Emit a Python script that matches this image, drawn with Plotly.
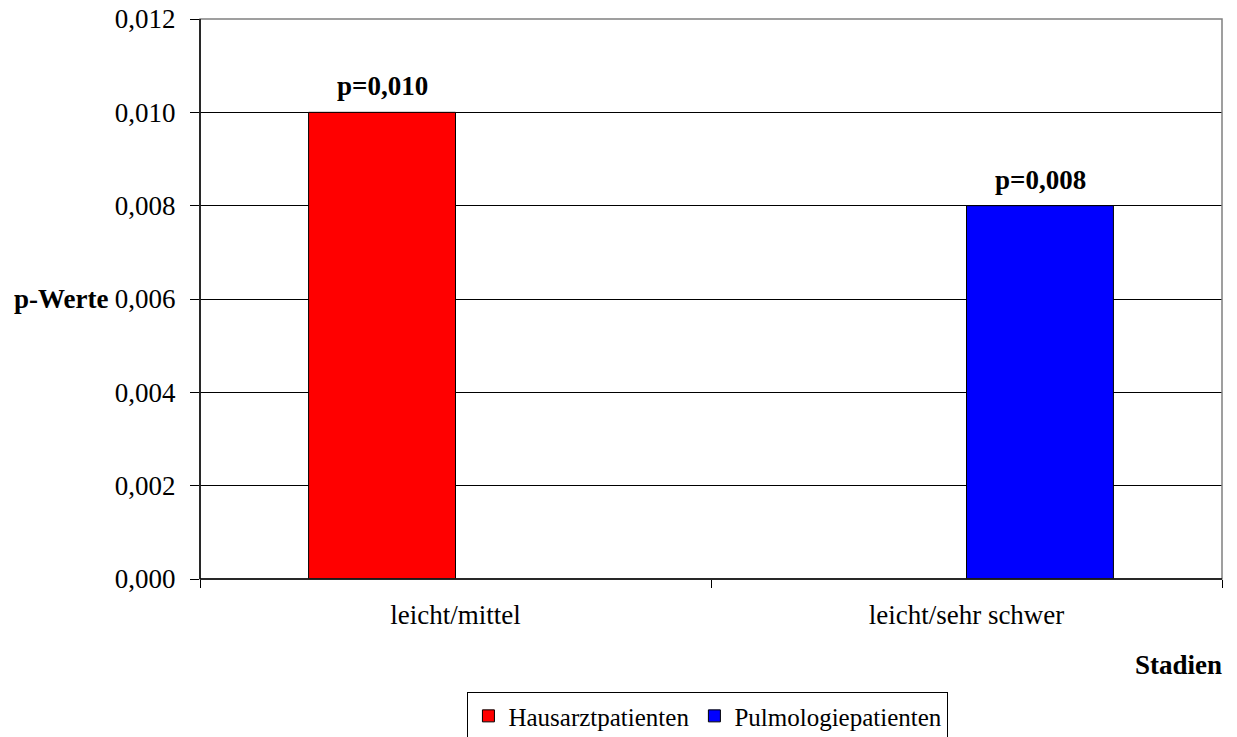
import plotly.graph_objects as go

# Data
stadien = ["leicht/mittel", "leicht/sehr schwer"]
hausarzt = [0.010, None]
pulmologie = [None, 0.008]
series_names = ["Hausarztpatienten", "Pulmologiepatienten"]
y_ticks = [0.000, 0.002, 0.004, 0.006, 0.008, 0.010, 0.012]

FONT = "Liberation Serif, Times New Roman, serif"
FS = 27


def p_label(v):
    return "p=" + f"{v:.3f}".replace(".", ",")


fig = go.Figure()
fig.add_trace(go.Bar(
    x=stadien, y=hausarzt, name=series_names[0],
    marker=dict(color="#FF0000", line=dict(color="black", width=1)),
))
fig.add_trace(go.Bar(
    x=stadien, y=pulmologie, name=series_names[1],
    marker=dict(color="#0000FF", line=dict(color="black", width=1)),
))

# Value labels above the bars
annotations = []
for trace_vals, shift in ((hausarzt, -0.5), (pulmologie, 0.5)):
    for cat, v in zip(stadien, trace_vals):
        if v is None:
            continue
        annotations.append(dict(
            x=cat, y=v, xref="x", yref="y", text="<b>" + p_label(v) + "</b>",
            showarrow=False, yanchor="bottom", yshift=9,
            xshift=shift * 147,
            font=dict(family=FONT, size=FS, color="black"),
        ))

# Axis titles
annotations.append(dict(
    x=0, xref="paper", xanchor="right", xshift=-90,
    y=0.006, yref="y", yanchor="middle",
    text="<b>p-Werte</b>", showarrow=False,
    font=dict(family=FONT, size=FS, color="black"),
))
annotations.append(dict(
    x=1, xref="paper", xanchor="right", xshift=2,
    y=0, yref="y", yanchor="middle", yshift=-86,
    text="<b>Stadien</b>", showarrow=False,
    font=dict(family=FONT, size=FS, color="black"),
))

fig.update_layout(
    width=1237, height=737,
    margin=dict(l=200, r=15, t=19, b=158, autoexpand=False),
    paper_bgcolor="white", plot_bgcolor="white",
    separators=",.",
    barmode="group", bargap=0.425, bargroupgap=0,
    font=dict(family=FONT, size=FS, color="black"),
    showlegend=True,
    legend=dict(
        orientation="h", x=0.497, xanchor="center", y=-0.202, yanchor="top",
        bordercolor="black", borderwidth=1, bgcolor="white",
        font=dict(family=FONT, size=25, color="black"),
        itemwidth=30, tracegroupgap=0,
    ),
    annotations=annotations,
    shapes=[dict(
        type="rect", xref="paper", yref="paper", x0=0, x1=1, y0=0, y1=1,
        line=dict(color="#808080", width=1.5), layer="above",
    ), dict(
        type="line", xref="paper", yref="paper", x0=0, x1=0, y0=0, y1=1,
        line=dict(color="black", width=1.5), layer="above",
    ), dict(
        type="line", xref="paper", yref="paper", x0=0, x1=1, y0=0, y1=0,
        line=dict(color="black", width=1.5), layer="above",
    )],
)

fig.update_yaxes(
    range=[0, 0.012], tickvals=y_ticks, tickformat=".3f",
    showgrid=True, gridcolor="black", gridwidth=1,
    showline=False, zeroline=False, automargin=False,
    ticks="outside", ticklen=9, tickcolor="black", tickwidth=1,
    ticklabelstandoff=9,
    tickfont=dict(family=FONT, size=FS, color="black"),
)
fig.update_xaxes(
    showgrid=False, showline=False, zeroline=False, automargin=False,
    ticks="outside", tickson="boundaries", ticklen=8,
    tickcolor="black", tickwidth=1,
    ticklabelstandoff=17,
    tickfont=dict(family=FONT, size=FS, color="black"),
)

fig.write_html("out.html")
